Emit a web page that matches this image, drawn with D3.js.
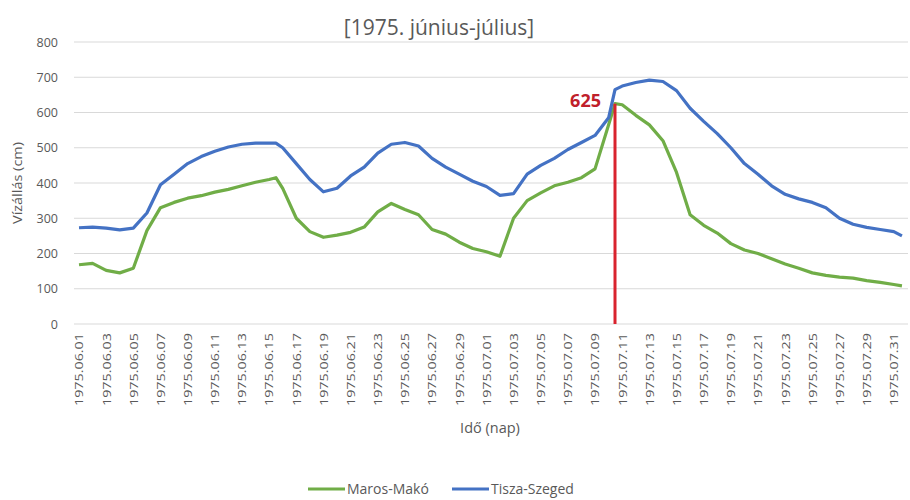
<!DOCTYPE html>
<html>
<head>
<meta charset="utf-8">
<script src="https://cdn.jsdelivr.net/npm/d3@7"></script>
<style>
  body { margin: 0; background: #fff; }
  text { font-family: "Open Sans", "Liberation Sans", sans-serif; fill: #595959; }
</style>
</head>
<body>
<svg id="chart" width="910" height="500"></svg>
<script>
// idopontok: napok 1975.06.01-tol (0 = 06.01), nehany kozbulso meresi ponttal
var idopontok = [0,1,2,3,4,5,6,7,8,9,10,11,12,13,14,14.5,15,16,17,18,19,20,21,22,23,24,25,26,27,28,29,30,
  31,32,33,34,35,36,37,38,39,39.47,40,41,42,43,44,45,46,47,48,49,50,51,52,53,54,55,56,57,58,59,60,60.6];

var marosMako = [168,172,152,145,158,265,330,345,357,364,374,382,392,402,410,415,385,300,262,246,252,260,275,318,342,325,310,268,255,232,214,205,
  192,300,350,372,392,402,415,440,565,625,622,592,565,520,430,310,280,258,228,210,200,185,170,158,145,138,133,130,123,118,112,108];

var tiszaSzeged = [273,275,272,267,272,315,395,425,455,475,490,502,510,513,513,513,500,455,410,375,385,420,445,485,510,515,505,470,445,425,405,390,
  365,370,425,450,470,495,515,535,585,665,675,685,692,688,662,612,575,540,500,455,425,392,368,355,345,330,300,283,274,268,262,250];

var yTicks = [0,100,200,300,400,500,600,700,800];

var datumCimkek = ["1975.06.01","1975.06.03","1975.06.05","1975.06.07","1975.06.09","1975.06.11","1975.06.13","1975.06.15",
  "1975.06.17","1975.06.19","1975.06.21","1975.06.23","1975.06.25","1975.06.27","1975.06.29","1975.07.01","1975.07.03",
  "1975.07.05","1975.07.07","1975.07.09","1975.07.11","1975.07.13","1975.07.15","1975.07.17","1975.07.19","1975.07.21",
  "1975.07.23","1975.07.25","1975.07.27","1975.07.29","1975.07.31"];
var cimkeNapok = d3.range(0, 61, 2);

var csucsNap = 39.47, csucsErtek = 625;

var series = [
  { name: "Maros-Makó", values: marosMako, color: "#70ad47" },
  { name: "Tisza-Szeged", values: tiszaSzeged, color: "#4472c4" }
];

var svg = d3.select("#chart");
var plotLeft = 74, plotRight = 908, plotTop = 42, plotBottom = 324;

var x = d3.scaleLinear().domain([0, 60]).range([79, 79 + 13.58 * 60]);
var y = d3.scaleLinear().domain([0, 800]).range([plotBottom, plotTop]);

// title
svg.append("text")
  .attr("x", 439).attr("y", 35)
  .attr("text-anchor", "middle")
  .style("font-size", "21px")
  .text("[1975. június-július]");

// grid
svg.append("g").selectAll("line")
  .data(yTicks).join("line")
  .attr("x1", plotLeft).attr("x2", plotRight)
  .attr("y1", d => y(d)).attr("y2", d => y(d))
  .attr("stroke", "#d9d9d9").attr("stroke-width", 1);

// y axis labels
var yAxis = svg.append("g")
  .attr("transform", `translate(${plotLeft},0)`)
  .call(d3.axisLeft(y).tickValues(yTicks).tickSize(0).tickPadding(16));
yAxis.select(".domain").remove();
yAxis.selectAll("text").style("font-size", "12.5px").style("fill", "#595959")
  .style("font-family", "'Open Sans', sans-serif");

svg.append("text")
  .attr("transform", `translate(22,${(plotTop + plotBottom) / 2}) rotate(-90)`)
  .attr("text-anchor", "middle")
  .style("font-size", "13px")
  .attr("textLength", 82).attr("lengthAdjust", "spacingAndGlyphs")
  .text("Vízállás (cm)");

// x axis labels
var xAxis = svg.append("g")
  .attr("transform", `translate(0,${plotBottom})`)
  .call(d3.axisBottom(x).tickValues(cimkeNapok).tickSize(0).tickFormat((d, i) => datumCimkek[i]));
xAxis.select(".domain").remove();
xAxis.selectAll("text")
  .style("font-size", "11px").style("fill", "#595959")
  .style("font-family", "'Open Sans', sans-serif")
  .attr("text-anchor", "end")
  .attr("transform", "rotate(-90)")
  .attr("x", -9).attr("y", 0).attr("dy", "0.35em")
  .attr("textLength", 73).attr("lengthAdjust", "spacingAndGlyphs");

svg.append("text")
  .attr("x", 490).attr("y", 433)
  .attr("text-anchor", "middle")
  .style("font-size", "14.5px")
  .text("Idő (nap)");

// lines
var line = d3.line()
  .x((d, i) => x(idopontok[i]))
  .y(d => y(d));

svg.append("g").selectAll("path")
  .data(series).join("path")
  .attr("d", d => line(d.values))
  .attr("fill", "none")
  .attr("stroke", d => d.color)
  .attr("stroke-width", 3.2)
  .attr("stroke-linejoin", "round");

// peak marker
svg.append("line")
  .attr("x1", x(csucsNap)).attr("x2", x(csucsNap))
  .attr("y1", y(csucsErtek)).attr("y2", y(0))
  .attr("stroke", "#d9232e").attr("stroke-width", 3);

svg.append("text")
  .attr("x", x(csucsNap) - 14).attr("y", y(csucsErtek) + 3)
  .attr("text-anchor", "end")
  .style("font-size", "18px").style("font-weight", "bold")
  .style("fill", "#c0202a")
  .text(csucsErtek);

// legend
var legendPos = [308, 452];
var legend = svg.append("g").selectAll("g")
  .data(series).join("g")
  .attr("transform", (d, i) => `translate(${legendPos[i]},489)`);
legend.append("line")
  .attr("x1", 0).attr("x2", 37)
  .attr("stroke", d => d.color).attr("stroke-width", 3);
legend.append("text")
  .attr("x", 39).attr("dy", "0.35em")
  .style("font-size", "14px")
  .text(d => d.name);
</script>
</body>
</html>
